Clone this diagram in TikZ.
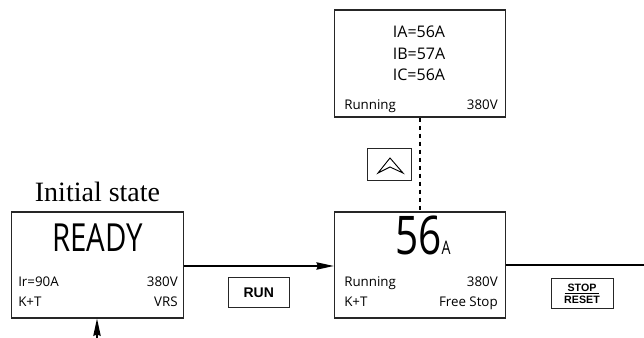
\documentclass[tikz,border=0pt]{standalone}
\usepackage{fontspec}
\setmainfont{Open Sans}
\newfontfamily\bigfont{Open Sans}[FakeStretch=0.76]
\newfontfamily\keyfont{Liberation Sans}
\newfontfamily\titlefont{Liberation Serif}
\usetikzlibrary{arrows.meta,positioning}

\tikzset{
  screen/.style={draw=black!85, line width=0.8pt, minimum width=128.5pt, minimum height=79.5pt, inner sep=0pt},
  keybox/.style={draw=black!85, solid, line width=0.7pt, inner sep=0pt, font=\keyfont\bfseries},
  small/.style={font=\fontsize{10}{12}\selectfont, inner sep=0pt},
  flow/.style={line width=1.1pt, -{Stealth[length=13pt,width=5.5pt,inset=1pt]}},
}

\begin{document}
\begin{tikzpicture}[x=0.75pt, y=-0.75pt]
    \useasboundingbox (0,0) rectangle (644,338);
    % screens
    \node[screen] (ready) at (97.5,265) {};
    \node[screen] (running) at (420,265) {};
    \node[screen, minimum height=80.25pt] (phase) at (420,63.5) {};

    % initial state
    \node[anchor=base, inner sep=0pt, font=\titlefont\fontsize{21}{25}\selectfont] (title) at (97.5,202) {Initial state};
    \node[anchor=base, inner sep=0pt, font=\bigfont\fontsize{29}{31}\selectfont] (readytxt) at (97.5,252) {READY};
    \node[small, anchor=base west] (ir) at (18,287) {Ir=90A};
    \node[small, anchor=base east] (voltA) at (178,287) {380V};
    \node[small, anchor=base west] (ktA) at (18,307) {K+T};
    \node[small, anchor=base east] (vrs) at (178,307) {VRS};

    % running
    \node[anchor=base, inner sep=0pt, font=\bigfont\fontsize{40}{42}\selectfont] (amps) at (423,255) {56{\fontsize{14}{16}\selectfont A}};
    \node[small, anchor=base west] (runB) at (344,287) {Running};
    \node[small, anchor=base east] (voltB) at (498,287) {380V};
    \node[small, anchor=base west] (ktB) at (344,307) {K+T};
    \node[small, anchor=base east] (free) at (498,307) {Free Stop};

    % phase currents
    \node[small, anchor=base, font=\fontsize{12}{14}\selectfont] (ia) at (419,38) {IA=56A};
    \node[small, anchor=base, font=\fontsize{12}{14}\selectfont] (ib) at (419,60) {IB=57A};
    \node[small, anchor=base, font=\fontsize{12}{14}\selectfont] (ic) at (419,81) {IC=56A};
    \node[small, anchor=base west] (runC) at (344,110) {Running};
    \node[small, anchor=base east] (voltC) at (498,110) {380V};

    % connectors
    \coordinate (exit) at (644,265);
    \coordinate (entry) at (97,338);
    \draw[flow] (ready.east |- 0,266) -- node[midway, below=8.25pt, keybox, minimum width=45.75pt, minimum height=22.5pt, font=\keyfont\bfseries\fontsize{10.5}{12}\selectfont] (runkey) {RUN} (running.west |- 0,266);
    \draw[line width=1.1pt] (running.east) -- node[pos=0.55, below=9.75pt, keybox, minimum width=46.5pt, minimum height=22.5pt, align=center, font=\keyfont\bfseries\fontsize{8}{9}\selectfont] (stopkey) {STOP\\RESET} (exit);
    \draw[line width=0.6pt] ([xshift=-13pt]stopkey.center) -- ([xshift=13pt]stopkey.center);
    \draw[flow] (entry) -- (ready.south -| entry);
    \draw[line width=2pt, dash pattern=on 3pt off 3pt] (phase.south) -- node[midway, left=6pt, keybox, minimum width=33pt, minimum height=24pt] (upkey) {} (running.north);
    \draw[line width=0.7pt, line join=miter] (378,173) -- (390,158) -- (403,173) -- (390,167) -- cycle;
\end{tikzpicture}
\end{document}
